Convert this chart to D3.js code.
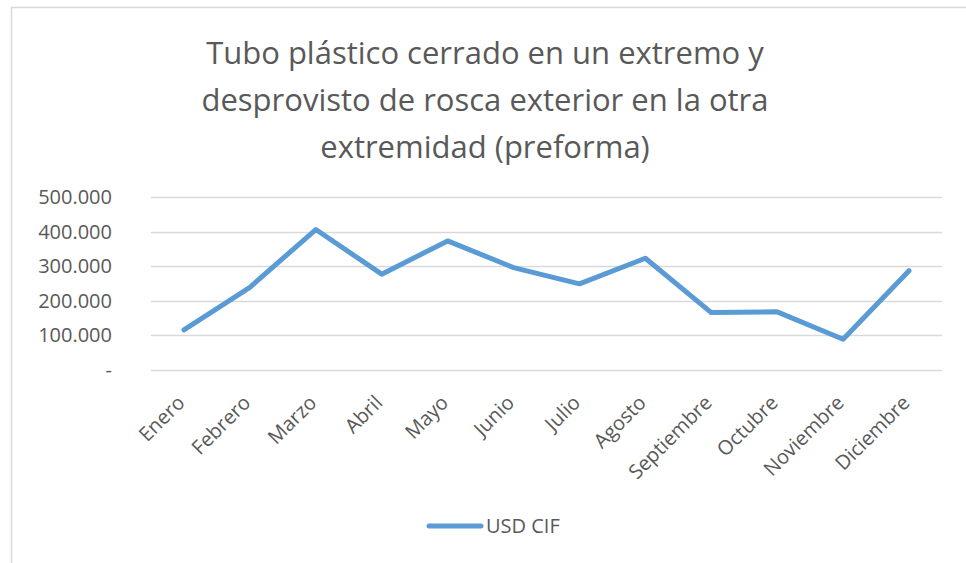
<!DOCTYPE html>
<html>
<head>
<meta charset="utf-8">
<script src="https://cdn.jsdelivr.net/npm/d3@7"></script>
<style>
  body { margin: 0; background: #fff; }
  svg { font-family: "Open Sans", sans-serif; }
</style>
</head>
<body>
<div id="chart"></div>
<script>
// data
var months = ["Enero", "Febrero", "Marzo", "Abril", "Mayo", "Junio", "Julio",
  "Agosto", "Septiembre", "Octubre", "Noviembre", "Diciembre"];
var usdCif = [116000, 239000, 406000, 277000, 373000, 296000, 249000,
  323000, 166000, 168000, 89000, 287000];
var yTicks = [0, 100000, 200000, 300000, 400000, 500000];
var titleLines = ["Tubo plástico cerrado en un extremo y",
  "desprovisto de rosca exterior en la otra",
  "extremidad (preforma)"];
var seriesName = "USD CIF";

var W = 966, H = 563;
var margin = { top: 197, right: 24, bottom: 193, left: 151 },
  width = W - margin.left - margin.right,
  height = H - margin.top - margin.bottom;

var svg = d3.select("#chart")
  .append("svg")
  .attr("width", W)
  .attr("height", H);

// chart frame
svg.append("rect")
  .attr("x", 11.5).attr("y", 7.5)
  .attr("width", W).attr("height", H)
  .attr("fill", "none")
  .attr("stroke", "#d9d9d9")
  .attr("stroke-width", 1.5);

// title
svg.append("g")
  .selectAll("text")
  .data(titleLines)
  .enter()
  .append("text")
  .attr("x", 485)
  .attr("y", function (d, i) { return 64 + i * 47; })
  .attr("text-anchor", "middle")
  .style("font-size", "31px")
  .style("fill", "#595959")
  .text(function (d) { return d; });

var g = svg.append("g")
  .attr("transform", "translate(" + margin.left + "," + margin.top + ")");

var x = d3.scaleBand().domain(months).range([0, width]);
var y = d3.scaleLinear().domain([0, 500000]).range([height, 0]);

var fmt = function (v) {
  return v === 0 ? "-" : d3.format(",")(v).replace(/,/g, ".");
};

// gridlines
g.append("g")
  .selectAll("line")
  .data(yTicks)
  .enter()
  .append("line")
  .attr("x1", 0).attr("x2", width)
  .attr("y1", function (d) { return Math.round(y(d)) + 0.5; })
  .attr("y2", function (d) { return Math.round(y(d)) + 0.5; })
  .attr("stroke", "#d9d9d9")
  .attr("stroke-width", 1.5);

// y axis labels
var yAxis = g.append("g")
  .call(d3.axisLeft(y).tickValues(yTicks).tickFormat(fmt).tickSize(0).tickPadding(39));
yAxis.select(".domain").remove();
yAxis.selectAll("text")
  .style("font-size", "20px")
  .style("font-family", "Open Sans, sans-serif")
  .style("fill", "#595959");

// x axis labels, rotated
var xAxis = g.append("g")
  .attr("transform", "translate(0," + height + ")")
  .call(d3.axisBottom(x).tickSize(0));
xAxis.select(".domain").remove();
xAxis.selectAll("text")
  .attr("y", 0).attr("dy", 0)
  .attr("transform", "translate(2,34) rotate(-45)")
  .style("text-anchor", "end")
  .style("font-size", "20px")
  .style("font-family", "Open Sans, sans-serif")
  .style("fill", "#595959");

// line
var line = d3.line()
  .x(function (d, i) { return x(months[i]) + x.bandwidth() / 2; })
  .y(function (d) { return y(d); });

g.append("path")
  .datum(usdCif)
  .attr("d", line)
  .attr("fill", "none")
  .attr("stroke", "#5b9bd5")
  .attr("stroke-width", 5)
  .attr("stroke-linejoin", "round")
  .attr("stroke-linecap", "round");

// legend
var legend = svg.append("g").attr("transform", "translate(427,526)");
legend.append("line")
  .attr("x1", 2).attr("x2", 54)
  .attr("y1", 0).attr("y2", 0)
  .attr("stroke", "#5b9bd5")
  .attr("stroke-width", 5)
  .attr("stroke-linecap", "round");
legend.append("text")
  .attr("x", 59).attr("y", 7)
  .style("font-size", "20px")
  .style("fill", "#595959")
  .text(seriesName);
</script>
</body>
</html>
